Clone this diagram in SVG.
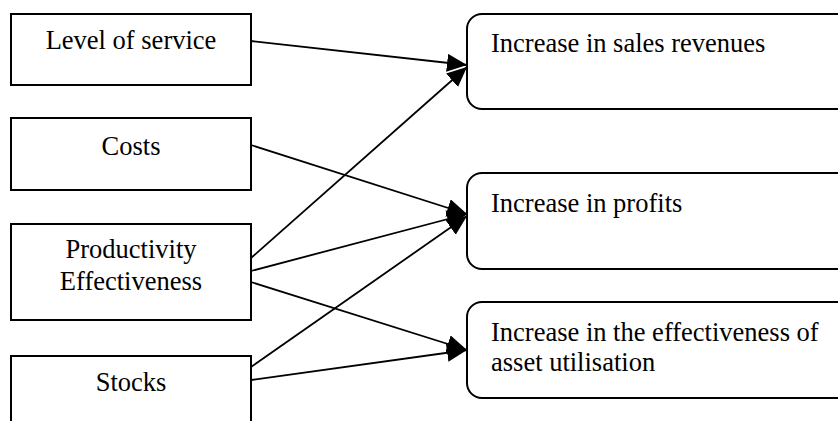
<svg xmlns="http://www.w3.org/2000/svg" width="838" height="421" viewBox="0 0 838 421">
  <style>
    .box { fill: #ffffff; stroke: #000000; stroke-width: 2; }
    .lbl { font-family: "Liberation Serif", "Times New Roman", serif; font-size: 26.5px; fill: #000000; }
    .mid { text-anchor: middle; }
    .edge { fill: none; stroke: #000000; stroke-width: 1.8; marker-end: url(#head); }
  </style>
  <defs>
    <marker id="head" markerUnits="userSpaceOnUse" markerWidth="22" markerHeight="20" refX="20" refY="9" orient="auto">
      <path d="M0,0 L20,9 L0,18 Z" fill="#000000"/>
    </marker>
  </defs>
  <rect width="838" height="421" fill="#ffffff"/>

  <!-- factor boxes -->
  <g id="level-of-service">
    <rect class="box" x="11" y="14" width="240" height="71"/>
    <text class="lbl mid" x="131" y="49">Level of service</text>
  </g>
  <g id="costs">
    <rect class="box" x="11" y="118" width="240" height="72"/>
    <text class="lbl mid" x="131" y="155">Costs</text>
  </g>
  <g id="productivity">
    <rect class="box" x="11" y="224" width="240" height="96"/>
    <text class="lbl mid" x="131" y="258">Productivity</text>
    <text class="lbl mid" x="131" y="290">Effectiveness</text>
  </g>
  <g id="stocks">
    <rect class="box" x="11" y="356" width="240" height="80"/>
    <text class="lbl mid" x="131" y="391">Stocks</text>
  </g>

  <!-- outcome boxes -->
  <g id="sales-revenues">
    <rect class="box" x="467" y="14" width="400" height="95" rx="15" ry="15"/>
    <text class="lbl" x="491" y="52">Increase in sales revenues</text>
  </g>
  <g id="profits">
    <rect class="box" x="467" y="173" width="400" height="96" rx="15" ry="15"/>
    <text class="lbl" x="491" y="212">Increase in profits</text>
  </g>
  <g id="asset-utilisation">
    <rect class="box" x="467" y="302" width="400" height="96" rx="15" ry="15"/>
    <text class="lbl" x="491" y="341">Increase in the effectiveness of</text>
    <text class="lbl" x="491" y="371">asset utilisation</text>
  </g>

  <!-- connectors -->
  <g id="connectors">
    <line class="edge" x1="251" y1="41" x2="467" y2="65"/>
    <line class="edge" x1="251" y1="145" x2="467" y2="214"/>
    <line class="edge" x1="251" y1="258" x2="467" y2="67"/>
    <line class="edge" x1="251" y1="271" x2="467" y2="214"/>
    <line class="edge" x1="251" y1="282" x2="467" y2="350"/>
    <line class="edge" x1="251" y1="367" x2="467" y2="216"/>
    <line class="edge" x1="251" y1="380" x2="467" y2="350"/>
  </g>
</svg>
